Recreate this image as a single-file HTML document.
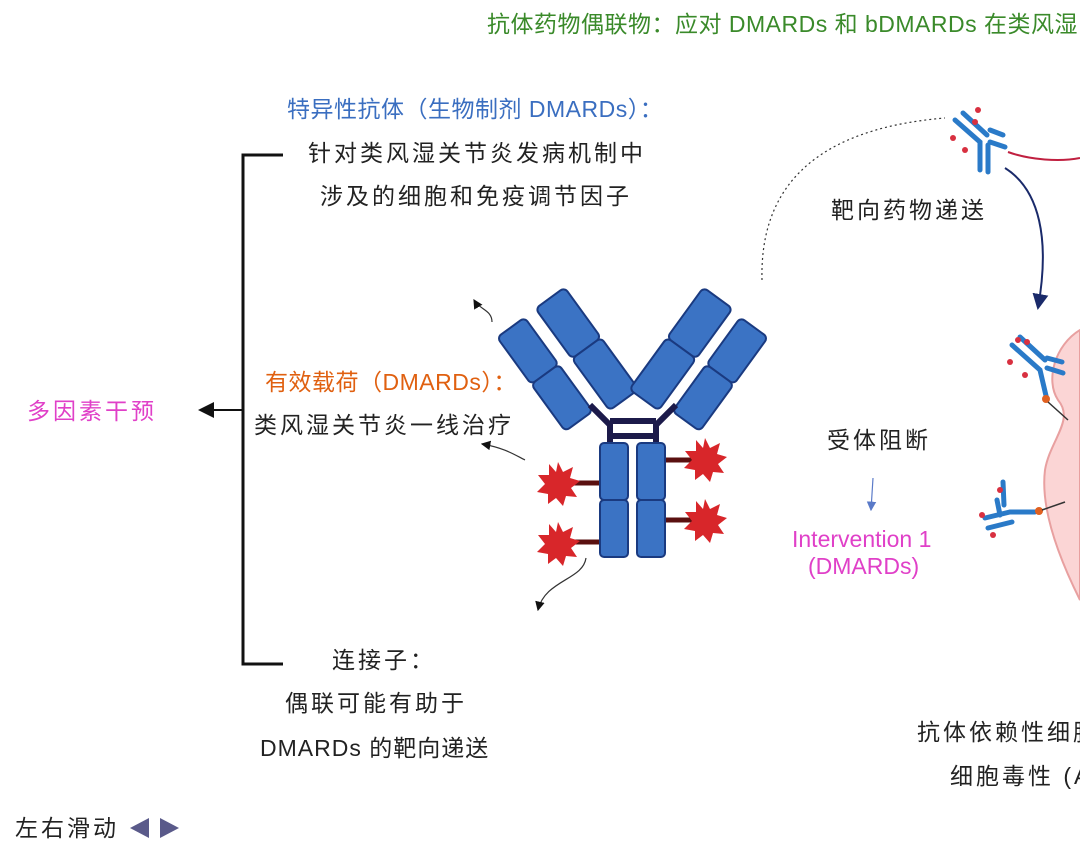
<!DOCTYPE html>
<html><head><meta charset="utf-8"><style>
html,body{margin:0;padding:0;background:#fff;}
body{width:1080px;height:857px;position:relative;overflow:hidden;font-family:"Liberation Sans","Noto Sans CJK SC",sans-serif;}
.t{position:absolute;white-space:nowrap;font-size:23px;line-height:28px;color:#222;letter-spacing:3px;}
.clip{position:absolute;left:0;top:0;width:1080px;height:857px;overflow:hidden;}
svg{position:absolute;left:0;top:0;}
</style></head><body><div class="clip">
<svg width="1080" height="857" viewBox="0 0 1080 857">
<defs>
<marker id="ah" markerWidth="8" markerHeight="8" refX="7" refY="4" orient="auto"><path d="M0,0 L8,4 L0,8 z" fill="#111"/></marker>
<marker id="ahb" markerWidth="8" markerHeight="8" refX="7" refY="4" orient="auto"><path d="M0,0 L8,4 L0,8 z" fill="#1a2a6a"/></marker>
<marker id="ahl" markerWidth="8" markerHeight="8" refX="7" refY="4" orient="auto"><path d="M0,0 L8,4 L0,8 z" fill="#5a7ac8"/></marker>
<g id="star"><polygon points="0,-22 5,-12 15,-17 12,-6 22,-3 13,4 19,13 8,12 5,22 -2,14 -10,20 -10,10 -21,8 -13,0 -20,-9 -9,-9 -9,-20 -2,-12" fill="#d8262a"/></g>
</defs>
<path d="M283,155 L243,155 L243,664 L283,664" fill="none" stroke="#111" stroke-width="3"/>
<line x1="243" y1="410" x2="200" y2="410" stroke="#111" stroke-width="2" marker-end="url(#ah)"/>
<g stroke="#1a3a80" stroke-width="2" fill="#3b73c4">
<g transform="translate(550,298) rotate(-36)"><rect x="-18" y="0" width="36" height="62" rx="5"/><rect x="-18" y="62" width="36" height="64" rx="5"/></g>
<g transform="translate(510,328) rotate(-36)"><rect x="-16" y="0" width="34" height="58" rx="5"/><rect x="-16" y="58" width="34" height="58" rx="5"/></g>
<g transform="translate(718,298) rotate(36)"><rect x="-18" y="0" width="36" height="62" rx="5"/><rect x="-18" y="62" width="36" height="64" rx="5"/></g>
<g transform="translate(755,328) rotate(36)"><rect x="-18" y="0" width="34" height="58" rx="5"/><rect x="-18" y="58" width="34" height="58" rx="5"/></g>
</g>
<g stroke="#1c1a4a" stroke-width="6" fill="none">
<path d="M590,405 L610,425 L610,445"/><path d="M676,405 L656,425 L656,445"/>
<line x1="610" y1="421" x2="656" y2="421"/><line x1="610" y1="436" x2="656" y2="436"/>
</g>
<g stroke="#5a1010" stroke-width="5"><line x1="565" y1="483" x2="605" y2="483"/><line x1="565" y1="542" x2="605" y2="542"/><line x1="665" y1="460" x2="700" y2="460"/><line x1="665" y1="520" x2="700" y2="520"/></g>
<g stroke="#1a3a80" stroke-width="2" fill="#3b73c4">
<rect x="600" y="443" width="28" height="57" rx="4"/><rect x="600" y="500" width="28" height="57" rx="4"/>
<rect x="637" y="443" width="28" height="57" rx="4"/><rect x="637" y="500" width="28" height="57" rx="4"/>
</g>
<use href="#star" x="558" y="484"/><use href="#star" x="558" y="544"/><use href="#star" x="705" y="460"/><use href="#star" x="705" y="521"/>
<g fill="none" stroke="#333" stroke-width="1.2">
<path d="M492,322 C492,310 480,310 474,300" marker-end="url(#ah)"/>
<path d="M525,460 C515,455 505,448 482,444" marker-end="url(#ah)"/>
<path d="M586,558 C583,580 545,580 538,610" marker-end="url(#ah)"/>
<path d="M762,280 C760,200 800,130 945,118" stroke-dasharray="2,3"/>
</g>
<path d="M1005,168 C1040,190 1050,240 1038,308" fill="none" stroke="#1a2a6a" stroke-width="2" marker-end="url(#ahb)"/>
<path d="M873,478 L871,510" fill="none" stroke="#5a7ac8" stroke-width="1.2" marker-end="url(#ahl)"/>
<path d="M1008,152 C1030,160 1060,162 1080,158" fill="none" stroke="#c02040" stroke-width="2"/>
<path d="M1080,330 C1055,345 1045,380 1058,400 C1075,420 1050,440 1045,470 C1040,510 1060,560 1080,600 Z" fill="#fbd5d5" stroke="#e8a0a0" stroke-width="2"/>
<g stroke="#2a7ac8" stroke-width="5" stroke-linecap="round" fill="none">
<path d="M955,120 L980,142 L980,170 M963,113 L987,135 M990,130 L1003,135 M990,142 L1005,147 M988,145 L988,172"/>
<path d="M1012,345 L1040,370 L1047,400 M1020,337 L1045,360 M1047,358 L1062,362 M1047,368 L1063,373"/>
<path d="M985,518 L1010,512 L1035,512 M988,528 L1012,522 M997,500 L1000,515 M1003,482 L1004,505"/>
</g>
<g fill="#d83040"><circle cx="953" cy="138" r="3"/><circle cx="965" cy="150" r="3"/><circle cx="975" cy="122" r="3"/><circle cx="978" cy="110" r="3"/>
<circle cx="1010" cy="362" r="3"/><circle cx="1025" cy="375" r="3"/><circle cx="1027" cy="342" r="3"/><circle cx="1018" cy="340" r="3"/>
<circle cx="982" cy="515" r="3"/><circle cx="993" cy="535" r="3"/><circle cx="1000" cy="490" r="3"/></g>
<g fill="#e06020"><circle cx="1046" cy="399" r="4"/><circle cx="1039" cy="511" r="4"/></g>
<g stroke="#333" stroke-width="1.5"><line x1="1048" y1="402" x2="1068" y2="420"/><line x1="1042" y1="510" x2="1065" y2="502"/></g>
<polygon points="130,828 149,818 149,838" fill="#5a5a8a"/><polygon points="179,828 160,818 160,838" fill="#5a5a8a"/>
</svg>
<div class="t" style="left:487px;top:10px;color:#3a8a2a;letter-spacing:0.5px;">抗体药物偶联物：应对 DMARDs 和 bDMARDs 在类风湿</div>
<div class="t" style="left:287px;top:95px;color:#3a6ec0;letter-spacing:0.5px;">特异性抗体（生物制剂 DMARDs）：</div>
<div class="t" style="left:308px;top:139px;">针对类风湿关节炎发病机制中</div>
<div class="t" style="left:320px;top:182px;">涉及的细胞和免疫调节因子</div>
<div class="t" style="left:265px;top:368px;color:#e06010;letter-spacing:0.5px;">有效载荷（DMARDs）：</div>
<div class="t" style="left:254px;top:411px;">类风湿关节炎一线治疗</div>
<div class="t" style="left:27px;top:397px;color:#e040c8;">多因素干预</div>
<div class="t" style="left:332px;top:646px;">连接子：</div>
<div class="t" style="left:285px;top:689px;">偶联可能有助于</div>
<div class="t" style="left:260px;top:734px;letter-spacing:1px;">DMARDs 的靶向递送</div>
<div class="t" style="left:831px;top:196px;">靶向药物递送</div>
<div class="t" style="left:827px;top:426px;">受体阻断</div>
<div class="t" style="left:792px;top:525px;color:#e040c8;letter-spacing:0;">Intervention 1</div>
<div class="t" style="left:808px;top:552px;color:#e040c8;letter-spacing:0;">(DMARDs)</div>
<div class="t" style="left:917px;top:718px;">抗体依赖性细胞</div>
<div class="t" style="left:950px;top:762px;">细胞毒性 (ADCC)</div>
<div class="t" style="left:15px;top:814px;">左右滑动</div>
</div></body></html>
